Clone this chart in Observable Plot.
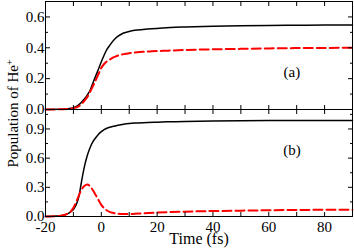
<!DOCTYPE html>
<html><head><meta charset="utf-8">
<script src="https://cdn.jsdelivr.net/npm/d3@7"></script>
<script src="https://cdn.jsdelivr.net/npm/@observablehq/plot@0.6"></script>
<style>
body{margin:0;background:#fff;}
#chart{position:relative;width:354px;height:250px;font-family:"Liberation Serif","Times New Roman",serif;}
#chart svg{position:absolute;left:0;top:0;}
</style></head><body><div id="chart"></div>
<script>
// Panel (a)
const timeA = [-20,-15,-12,-10,-8,-6,-5,-4,-3,-2,-1,0,1,2,3,4,5,6,8,10,12,15,18,22,30,40,50,60,70,80,90];
const ionA  = [0,0.001,0.005,0.012,0.032,0.07,0.095,0.125,0.172,0.218,0.262,0.31,0.352,0.39,0.415,0.44,0.46,0.475,0.496,0.506,0.513,0.519,0.524,0.529,0.535,0.54,0.543,0.545,0.546,0.547,0.547];
const redA  = [0,0.001,0.004,0.008,0.022,0.058,0.082,0.115,0.152,0.19,0.23,0.27,0.295,0.312,0.323,0.335,0.343,0.35,0.359,0.365,0.369,0.374,0.377,0.38,0.386,0.39,0.393,0.396,0.398,0.399,0.4];
// Panel (b)
const timeB = [-20,-16,-14,-12,-11,-10,-9,-8,-7,-6,-5,-4,-3,-2,-1,0,1,2,3,4,6,8,10,12,15,20,25,30,40,50,60,70,80,90];
const ionB  = [0,0.004,0.01,0.03,0.048,0.072,0.12,0.21,0.375,0.52,0.63,0.71,0.77,0.81,0.845,0.872,0.893,0.907,0.917,0.925,0.938,0.948,0.955,0.96,0.965,0.97,0.974,0.977,0.981,0.984,0.986,0.987,0.988,0.988];
const redB  = [0,0.004,0.01,0.03,0.05,0.09,0.15,0.22,0.28,0.315,0.33,0.31,0.27,0.22,0.17,0.12,0.085,0.062,0.047,0.038,0.029,0.025,0.025,0.028,0.033,0.04,0.046,0.05,0.056,0.06,0.064,0.067,0.069,0.07];

const xTickValues = [-20,-10,0,10,20,30,40,50,60,70,80,90];
const xLabelValues = [-20,0,20,40,60,80];
const yMajorA = [0,0.2,0.4,0.6];
const yMinorA = [0.1,0.3,0.5];
const yMajorB = [0,0.3,0.6,0.9];
const yMinorB = [0.15,0.45,0.75,1.05];
const tagA = [{t:68.3, v:0.243, label:"(a)"}];
const tagB = [{t:68.3, v:0.685, label:"(b)"}];
const xTitle = "Time (fs)";
const yTitle = "Population of He";
const ySup = "+";

const none = () => "";
function panel({time, ion, red, yDomain, yMajor, yMinor, height, marginTop, marginBottom, tag, bottom}) {
  const ionData = time.map((t, i) => ({t, v: ion[i]}));
  const redData = time.map((t, i) => ({t, v: red[i]}));
  const marks = [
    Plot.line(ionData, {x: "t", y: "v", stroke: "black", strokeWidth: 1.5, curve: "monotone-x"}),
    Plot.line(redData, {x: "t", y: "v", stroke: "#ff0000", strokeWidth: 2, strokeDasharray: "9,4", curve: "monotone-x"}),
    Plot.frame({stroke: "black", strokeWidth: 1}),
    Plot.axisX(xTickValues, {anchor: "bottom", tickSize: -4, tickFormat: none, label: null}),
    Plot.axisX(xTickValues, {anchor: "top", tickSize: -4, tickFormat: none, label: null}),
    Plot.axisY(yMajor, {anchor: "left", tickSize: -5, tickFormat: none, label: null}),
    Plot.axisY(yMinor, {anchor: "left", tickSize: -3, tickFormat: none, label: null}),
    Plot.axisY(yMajor, {anchor: "right", tickSize: -5, tickFormat: none, label: null}),
    Plot.axisY(yMinor, {anchor: "right", tickSize: -3, tickFormat: none, label: null}),
    Plot.axisY(yMajor, {anchor: "left", tickSize: 0, tickPadding: 1, tickFormat: d3.format(".1f"), label: null, fontSize: 15}),
    Plot.text(tag, {x: "t", y: "v", text: "label", fontSize: 15})
  ];
  if (bottom) {
    marks.push(
      Plot.axisX(xLabelValues, {anchor: "bottom", tickSize: 0, tickPadding: 5, tickFormat: d => String(d), label: null, fontSize: 15}),
      Plot.text([xTitle], {text: d => d, frameAnchor: "bottom", dy: 27, lineAnchor: "bottom", fontSize: 16})
    );
  }
  return Plot.plot({
    width: 354, height, marginLeft: 45, marginRight: 2, marginTop, marginBottom,
    style: {fontFamily: '"Liberation Serif","Times New Roman",serif', fontSize: "15px", background: "transparent", overflow: "visible", color: "black"},
    x: {domain: [-20, 90]},
    y: {domain: yDomain},
    marks
  });
}

const chartEl = document.getElementById("chart");
const panelA = panel({time: timeA, ion: ionA, red: redA, yDomain: [0, 0.7], yMajor: yMajorA, yMinor: yMinorA, height: 110, marginTop: 1, marginBottom: 1, tag: tagA, bottom: false});
const panelB = panel({time: timeB, ion: ionB, red: redB, yDomain: [0, 1.1], yMajor: yMajorB, yMinor: yMinorB, height: 250, marginTop: 109, marginBottom: 34, tag: tagB, bottom: true});
chartEl.appendChild(panelA);
chartEl.appendChild(panelB);

const lab = d3.select(panelB).append("text")
  .attr("transform", "translate(17.5,113.5) rotate(-90)")
  .attr("text-anchor", "middle")
  .attr("font-size", 15)
  .attr("fill", "black");
lab.append("tspan").text(yTitle);
lab.append("tspan").attr("dy", "-0.5em").attr("font-size", 10).text(ySup);
</script>
</body></html>
